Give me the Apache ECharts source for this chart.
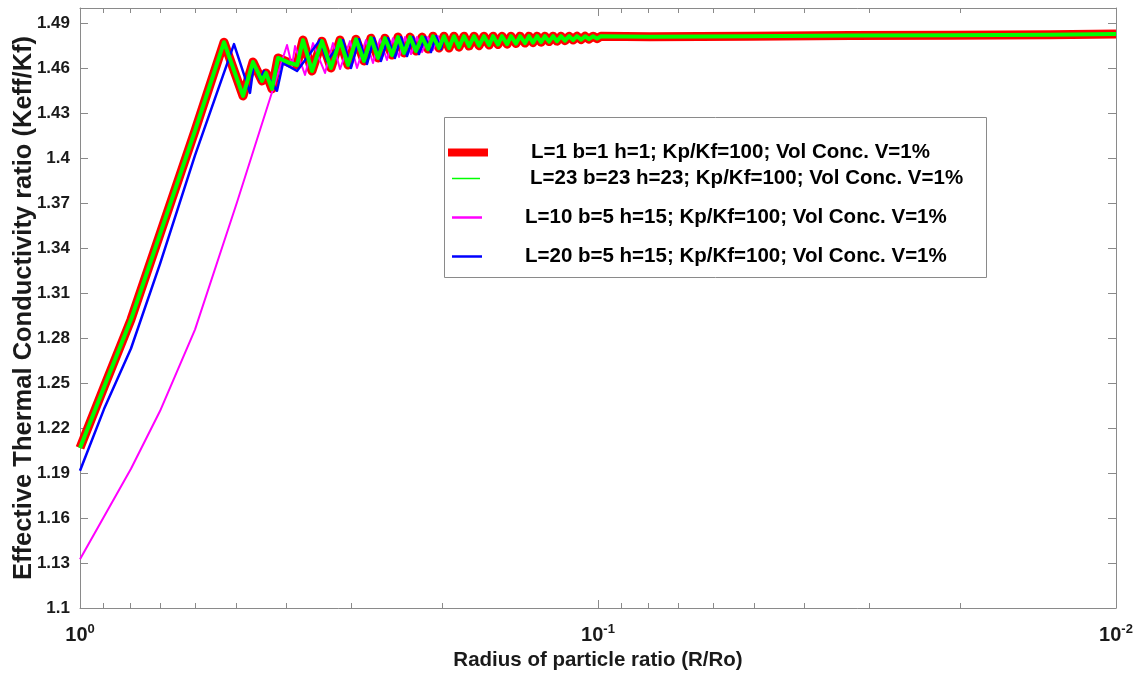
<!DOCTYPE html>
<html>
<head>
<meta charset="utf-8">
<script src="https://cdn.jsdelivr.net/npm/echarts@6/dist/echarts.min.js"></script>
<style>
html,body{margin:0;padding:0;background:#fff;}
#chart{width:1139px;height:673px;}
</style>
</head>
<body>
<div id="chart"></div>
<script>
// ---- data ----
// R/Ro values and Keff/Kf for the cube cases (L=1 and L=23 overlap)
const cubeR = [1, 0.8988, 0.7972, 0.7007, 0.5998, 0.5272, 0.4845, 0.4635, 0.4453, 0.4375, 0.4259, 0.4147, 0.3932, 0.3811, 0.3711, 0.3566, 0.3411, 0.3277, 0.3148, 0.3038, 0.2932, 0.2830, 0.2743, 0.2659, 0.2578, 0.2499, 0.2433, 0.2369, 0.2306, 0.2246, 0.2186, 0.2129, 0.2082, 0.2027];
const cubeK = [1.2067, 1.2472, 1.2923, 1.3493, 1.4182, 1.4772, 1.4414, 1.4640, 1.4514, 1.4567, 1.4461, 1.4667, 1.4633, 1.4620, 1.4786, 1.4580, 1.4779, 1.4600, 1.4786, 1.4620, 1.4792, 1.4647, 1.4799, 1.4667, 1.4799, 1.4686, 1.4806, 1.4700, 1.4806, 1.4713, 1.4806, 1.4726, 1.4812, 1.4733];
// common tail (all four curves merge for small R)
const tailR = [0.1983, 0.1939, 0.1897, 0.1855, 0.1814, 0.1774, 0.1735, 0.1697, 0.1660, 0.1623, 0.1594, 0.1560, 0.1532, 0.1498, 0.1472, 0.1440, 0.1414, 0.1383, 0.1359, 0.1335, 0.1311, 0.1288, 0.1266, 0.1243, 0.1221, 0.1200, 0.1179, 0.1158, 0.1137, 0.1117, 0.1098, 0.1078, 0.1059, 0.1041, 0.1022, 0.1004, 0.0987, 0.0794, 0.0509, 0.0326, 0.0209, 0.0134, 0.01];
const tailK = [1.4812, 1.4733, 1.4812, 1.4739, 1.4812, 1.4746, 1.4812, 1.4749, 1.4812, 1.4753, 1.4812, 1.4756, 1.4812, 1.4759, 1.4812, 1.4763, 1.4812, 1.4766, 1.4812, 1.4769, 1.4812, 1.4772, 1.4812, 1.4776, 1.4812, 1.4779, 1.4812, 1.4782, 1.4812, 1.4786, 1.4812, 1.4789, 1.4812, 1.4792, 1.4812, 1.4796, 1.4812, 1.4809, 1.4812, 1.4816, 1.4819, 1.4822, 1.4826];
// L=20 b=5 h=15
const blueR = [1, 0.8988, 0.7972, 0.7007, 0.5998, 0.5043, 0.4697, 0.4614, 0.4493, 0.4414, 0.4166, 0.4056, 0.3811, 0.3441, 0.3336, 0.3107, 0.2998, 0.2893, 0.2792, 0.2707, 0.2624, 0.2543, 0.2466, 0.2400, 0.2337, 0.2276, 0.2216, 0.2157, 0.2101, 0.2054, 0.2009];
const blueK = [1.1915, 1.2326, 1.2730, 1.3294, 1.4017, 1.4759, 1.4434, 1.4633, 1.4521, 1.4580, 1.4448, 1.4633, 1.4580, 1.4786, 1.4647, 1.4786, 1.4600, 1.4792, 1.4627, 1.4799, 1.4647, 1.4799, 1.4667, 1.4806, 1.4680, 1.4806, 1.4693, 1.4806, 1.4706, 1.4812, 1.4726];
// L=10 b=5 h=15
const magR = [1, 0.7972, 0.7007, 0.5998, 0.4976, 0.3984, 0.3897, 0.3845, 0.3678, 0.3550, 0.3365, 0.3248, 0.3148, 0.3011, 0.2919, 0.2805, 0.2719, 0.2636, 0.2555, 0.2488, 0.2422, 0.2358, 0.2296, 0.2236, 0.2186, 0.2129, 0.2082, 0.2036, 0.2009];
const magK = [1.1325, 1.1928, 1.2313, 1.2856, 1.3705, 1.4753, 1.4613, 1.4746, 1.4554, 1.4766, 1.4567, 1.4766, 1.4593, 1.4779, 1.4600, 1.4786, 1.4633, 1.4792, 1.4653, 1.4799, 1.4673, 1.4806, 1.4693, 1.4806, 1.4706, 1.4806, 1.4720, 1.4812, 1.4733];

const seriesNames = [
  'L=1 b=1 h=1; Kp/Kf=100; Vol Conc. V=1%',
  'L=23 b=23 h=23; Kp/Kf=100; Vol Conc. V=1%',
  'L=10 b=5 h=15; Kp/Kf=100; Vol Conc. V=1%',
  'L=20 b=5 h=15; Kp/Kf=100; Vol Conc. V=1%'
];
const yTicks = [1.1, 1.13, 1.16, 1.19, 1.22, 1.25, 1.28, 1.31, 1.34, 1.37, 1.4, 1.43, 1.46, 1.49];
const xMinorTicks = [0.9, 0.8, 0.7, 0.6, 0.5, 0.4, 0.3, 0.2, 0.09, 0.08, 0.07, 0.06, 0.05, 0.04, 0.03, 0.02];

// ---- build ----
function pairs(r, k) { return r.map((v, i) => [v, k[i]]); }
const cubeData = pairs(cubeR, cubeK).concat(pairs(tailR, tailK));
const blueData = pairs(blueR, blueK).concat(pairs(tailR, tailK));
const magData = pairs(magR, magK).concat(pairs(tailR, tailK));
const minorLog = xMinorTicks.map(v => Math.log10(v));

const FONT = '"Liberation Sans", Arial, Helvetica, sans-serif';
const AX = '#8a8a8a';
const TXT = '#1a1a1a';

const chart = echarts.init(document.getElementById('chart'), null, {renderer: 'canvas'});

function lineSeries(name, data, color, width, z) {
  return {
    name: name, type: 'line', data: data, xAxisIndex: 0, yAxisIndex: 0,
    showSymbol: false, symbol: 'none', clip: false, z: z,
    color: color,
    itemStyle: {color: color},
    lineStyle: {color: color, width: width, join: 'round', cap: 'butt'},
    emphasis: {disabled: true}
  };
}

function legendFor(name, left, top, w, h, pad) {
  return {
    data: [{name: name, icon: 'rect'}],
    left: left, top: top, padding: 0, itemGap: 0,
    itemWidth: w, itemHeight: h, selectedMode: false, z: 20,
    textStyle: {fontFamily: FONT, fontWeight: 'bold', fontSize: 20.5, color: '#000', padding: [0, 0, 0, pad]}
  };
}

const option = {
  animation: false,
  backgroundColor: '#fff',
  grid: {left: 80, right: 23, top: 8, bottom: 65, containLabel: false, outerBoundsMode: 'none'},
  xAxis: [
    {
      type: 'log', logBase: 10, min: 0.01, max: 1, inverse: true, position: 'bottom',
      name: 'Radius of particle ratio (R/Ro)', nameLocation: 'middle', nameGap: 40,
      nameTextStyle: {fontFamily: FONT, fontWeight: 'bold', fontSize: 20.5, color: TXT},
      axisLine: {show: true, onZero: false, lineStyle: {color: AX, width: 1}},
      axisTick: {show: true, inside: true, length: 8, lineStyle: {color: AX}},
      splitLine: {show: false}, minorTick: {show: false},
      axisLabel: {
        margin: 15,
        formatter: v => '{b|10}{s|' + Math.round(Math.log10(v)) + '}',
        rich: {
          b: {fontFamily: FONT, fontWeight: 'bold', fontSize: 20, color: TXT},
          s: {fontFamily: FONT, fontWeight: 'bold', fontSize: 13, color: TXT, verticalAlign: 'bottom', padding: [0, 0, 11, 0]}
        }
      }
    },
    {
      type: 'value', min: -2, max: 0, inverse: true, position: 'bottom',
      axisLine: {show: false, onZero: false},
      axisTick: {show: true, inside: true, length: 5, customValues: minorLog, lineStyle: {color: AX}},
      axisLabel: {show: false}, splitLine: {show: false}
    },
    {
      type: 'log', logBase: 10, min: 0.01, max: 1, inverse: true, position: 'top',
      axisLine: {show: true, onZero: false, lineStyle: {color: AX, width: 1}},
      axisTick: {show: true, inside: true, length: 8, lineStyle: {color: AX}},
      axisLabel: {show: false}, splitLine: {show: false}
    },
    {
      type: 'value', min: -2, max: 0, inverse: true, position: 'top',
      axisLine: {show: false, onZero: false},
      axisTick: {show: true, inside: true, length: 5, customValues: minorLog, lineStyle: {color: AX}},
      axisLabel: {show: false}, splitLine: {show: false}
    }
  ],
  yAxis: [
    {
      type: 'value', min: 1.1, max: 1.5, position: 'left',
      name: 'Effective Thermal Conductivity ratio (Keff/Kf)', nameLocation: 'middle', nameGap: 43,
      nameMoveOverlap: false,
      nameTextStyle: {fontFamily: FONT, fontWeight: 'bold', fontSize: 25.5, color: TXT},
      axisLine: {show: true, onZero: false, lineStyle: {color: AX, width: 1}},
      axisTick: {show: true, inside: true, length: 8, customValues: yTicks, lineStyle: {color: AX}},
      axisLabel: {customValues: yTicks, margin: 10, fontFamily: FONT, fontWeight: 'bold', fontSize: 17, color: TXT,
                  formatter: v => String(v)},
      splitLine: {show: false}
    },
    {
      type: 'value', min: 1.1, max: 1.5, position: 'right',
      axisLine: {show: true, onZero: false, lineStyle: {color: AX, width: 1}},
      axisTick: {show: true, inside: true, length: 8, customValues: yTicks, lineStyle: {color: AX}},
      axisLabel: {show: false}, splitLine: {show: false}
    }
  ],
  legend: [
    legendFor(seriesNames[0], 448, 142, 40, 8, 38),
    legendFor(seriesNames[1], 452, 168, 28, 1.5, 45),
    legendFor(seriesNames[2], 452, 207, 30, 2.5, 38),
    legendFor(seriesNames[3], 452, 246, 30, 2.5, 38)
  ],
  graphic: [
    {type: 'rect', z: 15, shape: {x: 444.5, y: 117.5, width: 542, height: 160},
     style: {fill: '#fff', stroke: AX, lineWidth: 1}}
  ],
  series: [
    lineSeries(seriesNames[0], cubeData, '#ff0000', 9, 2),
    lineSeries(seriesNames[2], magData, '#ff00ff', 2, 3),
    lineSeries(seriesNames[3], blueData, '#0000ff', 2.5, 4),
    lineSeries(seriesNames[1], cubeData, '#00ff00', 4, 5)
  ]
};
chart.setOption(option);
</script>
</body>
</html>
